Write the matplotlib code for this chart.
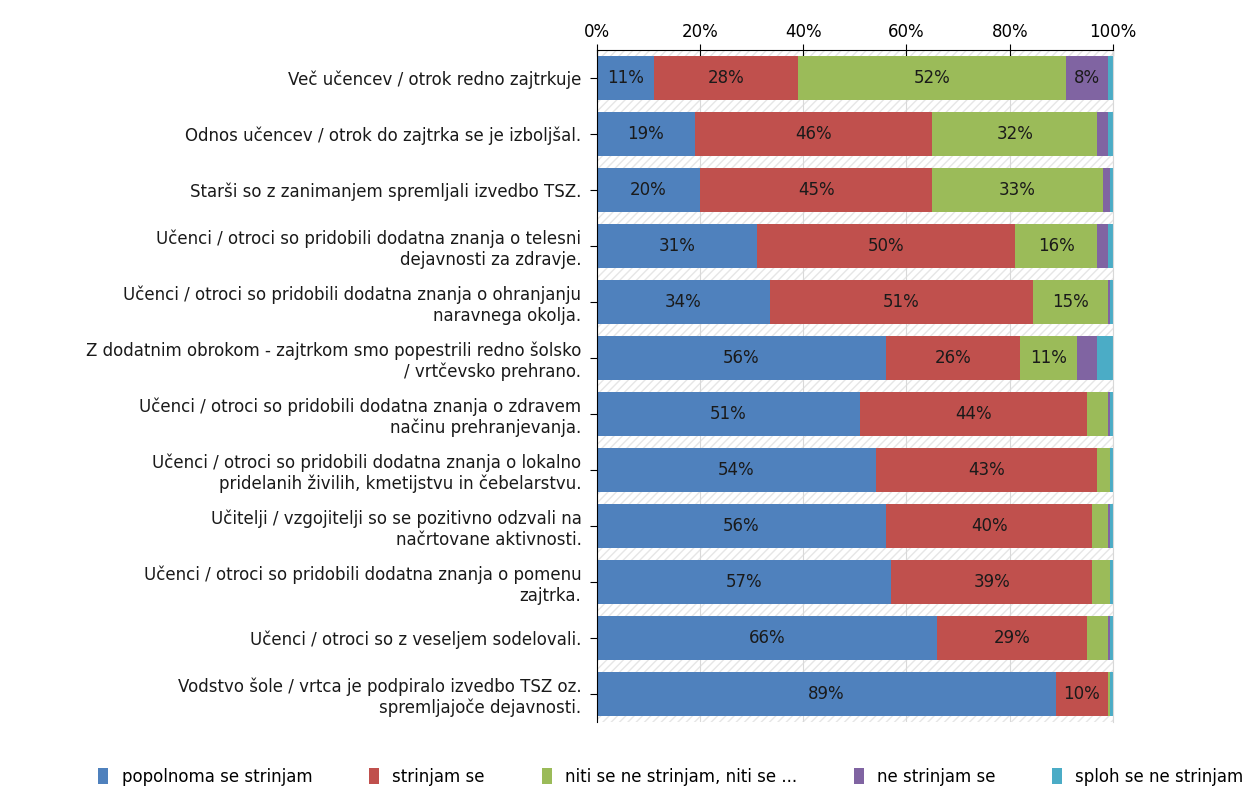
import numpy as np
import matplotlib
matplotlib.use("Agg")
import matplotlib.pyplot as plt
from matplotlib.patches import Rectangle

categories = [
    "Več učencev / otrok redno zajtrkuje",
    "Odnos učencev / otrok do zajtrka se je izboljšal.",
    "Starši so z zanimanjem spremljali izvedbo TSZ.",
    "Učenci / otroci so pridobili dodatna znanja o telesni\ndejavnosti za zdravje.",
    "Učenci / otroci so pridobili dodatna znanja o ohranjanju\nnaravnega okolja.",
    "Z dodatnim obrokom - zajtrkom smo popestrili redno šolsko\n/ vrtčevsko prehrano.",
    "Učenci / otroci so pridobili dodatna znanja o zdravem\nnačinu prehranjevanja.",
    "Učenci / otroci so pridobili dodatna znanja o lokalno\npridelanih živilih, kmetijstvu in čebelarstvu.",
    "Učitelji / vzgojitelji so se pozitivno odzvali na\nnačrtovane aktivnosti.",
    "Učenci / otroci so pridobili dodatna znanja o pomenu\nzajtrka.",
    "Učenci / otroci so z veseljem sodelovali.",
    "Vodstvo šole / vrtca je podpiralo izvedbo TSZ oz.\nspremljajoče dejavnosti.",
]

series_names = [
    "popolnoma se strinjam",
    "strinjam se",
    "niti se ne strinjam, niti se ...",
    "ne strinjam se",
    "sploh se ne strinjam",
]

popolnoma = [11, 19, 20, 31, 33.5, 56, 51, 54, 56, 57, 66, 89]
strinjam = [28, 46, 45, 50, 51, 26, 44, 43, 40, 39, 29, 10]
niti = [52, 32, 33, 16, 14.5, 11, 4, 2.5, 3, 3.5, 4, 0.5]
ne_strinjam = [8, 2, 1.5, 2, 0.5, 4, 0.5, 0, 0.5, 0, 0.5, 0]
sploh = [1, 1, 0.5, 1, 0.5, 3, 0.5, 0.5, 0.5, 0.5, 0.5, 0.5]

# percentage labels printed inside the segments (None = no label)
labels_shown = [
    [11, 28, 52, 8, None],
    [19, 46, 32, None, None],
    [20, 45, 33, None, None],
    [31, 50, 16, None, None],
    [34, 51, 15, None, None],
    [56, 26, 11, None, None],
    [51, 44, None, None, None],
    [54, 43, None, None, None],
    [56, 40, None, None, None],
    [57, 39, None, None, None],
    [66, 29, None, None, None],
    [89, 10, None, None, None],
]

colors = ["#4F81BD", "#C0504D", "#9BBB59", "#8064A2", "#4BACC6"]
FS = 12

fig = plt.figure(figsize=(12.59, 7.9), dpi=100)
ax = fig.add_axes([0.474, 0.086, 0.41, 0.851])

# hatched background between the bars
bg = Rectangle((0, 0), 1, 1, transform=ax.transAxes, facecolor="white",
               edgecolor="#e6e6e6", hatch="////", linewidth=0, zorder=0)
ax.add_patch(bg)

y = np.arange(len(categories))
data = [popolnoma, strinjam, niti, ne_strinjam, sploh]
left = np.zeros(len(categories))
for i, (vals, col, name) in enumerate(zip(data, colors, series_names)):
    vals = np.array(vals, dtype=float)
    ax.barh(y, vals, left=left, height=0.78, color=col, label=name, zorder=2)
    for j, v in enumerate(vals):
        lab = labels_shown[j][i]
        if lab is not None:
            ax.text(left[j] + v / 2, y[j], f"{lab}%", ha="center", va="center",
                    fontsize=FS, color="#1a1a1a", zorder=3)
    left += vals

ax.set_xlim(0, 100)
ax.set_ylim(len(categories) - 0.5, -0.5)
ax.set_yticks(y)
ax.set_yticklabels(categories, fontsize=FS, color="#1a1a1a")
ax.set_xticks([0, 20, 40, 60, 80, 100])
ax.set_xticklabels([f"{t}%" for t in [0, 20, 40, 60, 80, 100]], fontsize=FS)
ax.xaxis.tick_top()
ax.grid(axis="x", color="#d9d9d9", linewidth=0.8, zorder=1)
ax.set_axisbelow(True)
ax.tick_params(axis="x", direction="inout", length=8, pad=2)
ax.tick_params(axis="y", direction="out", length=5, pad=6)
ax.spines["bottom"].set_visible(False)
ax.spines["right"].set_color("#d8d8d8")
ax.spines["top"].set_color("black")
ax.spines["left"].set_color("black")

fig.legend(loc="lower center", bbox_to_anchor=(0.533, -0.014), ncol=5, frameon=False,
           fontsize=FS, handlelength=0.6, handleheight=1.1, columnspacing=3.4,
           handletextpad=0.8)

fig.savefig("out.png", dpi=100)
